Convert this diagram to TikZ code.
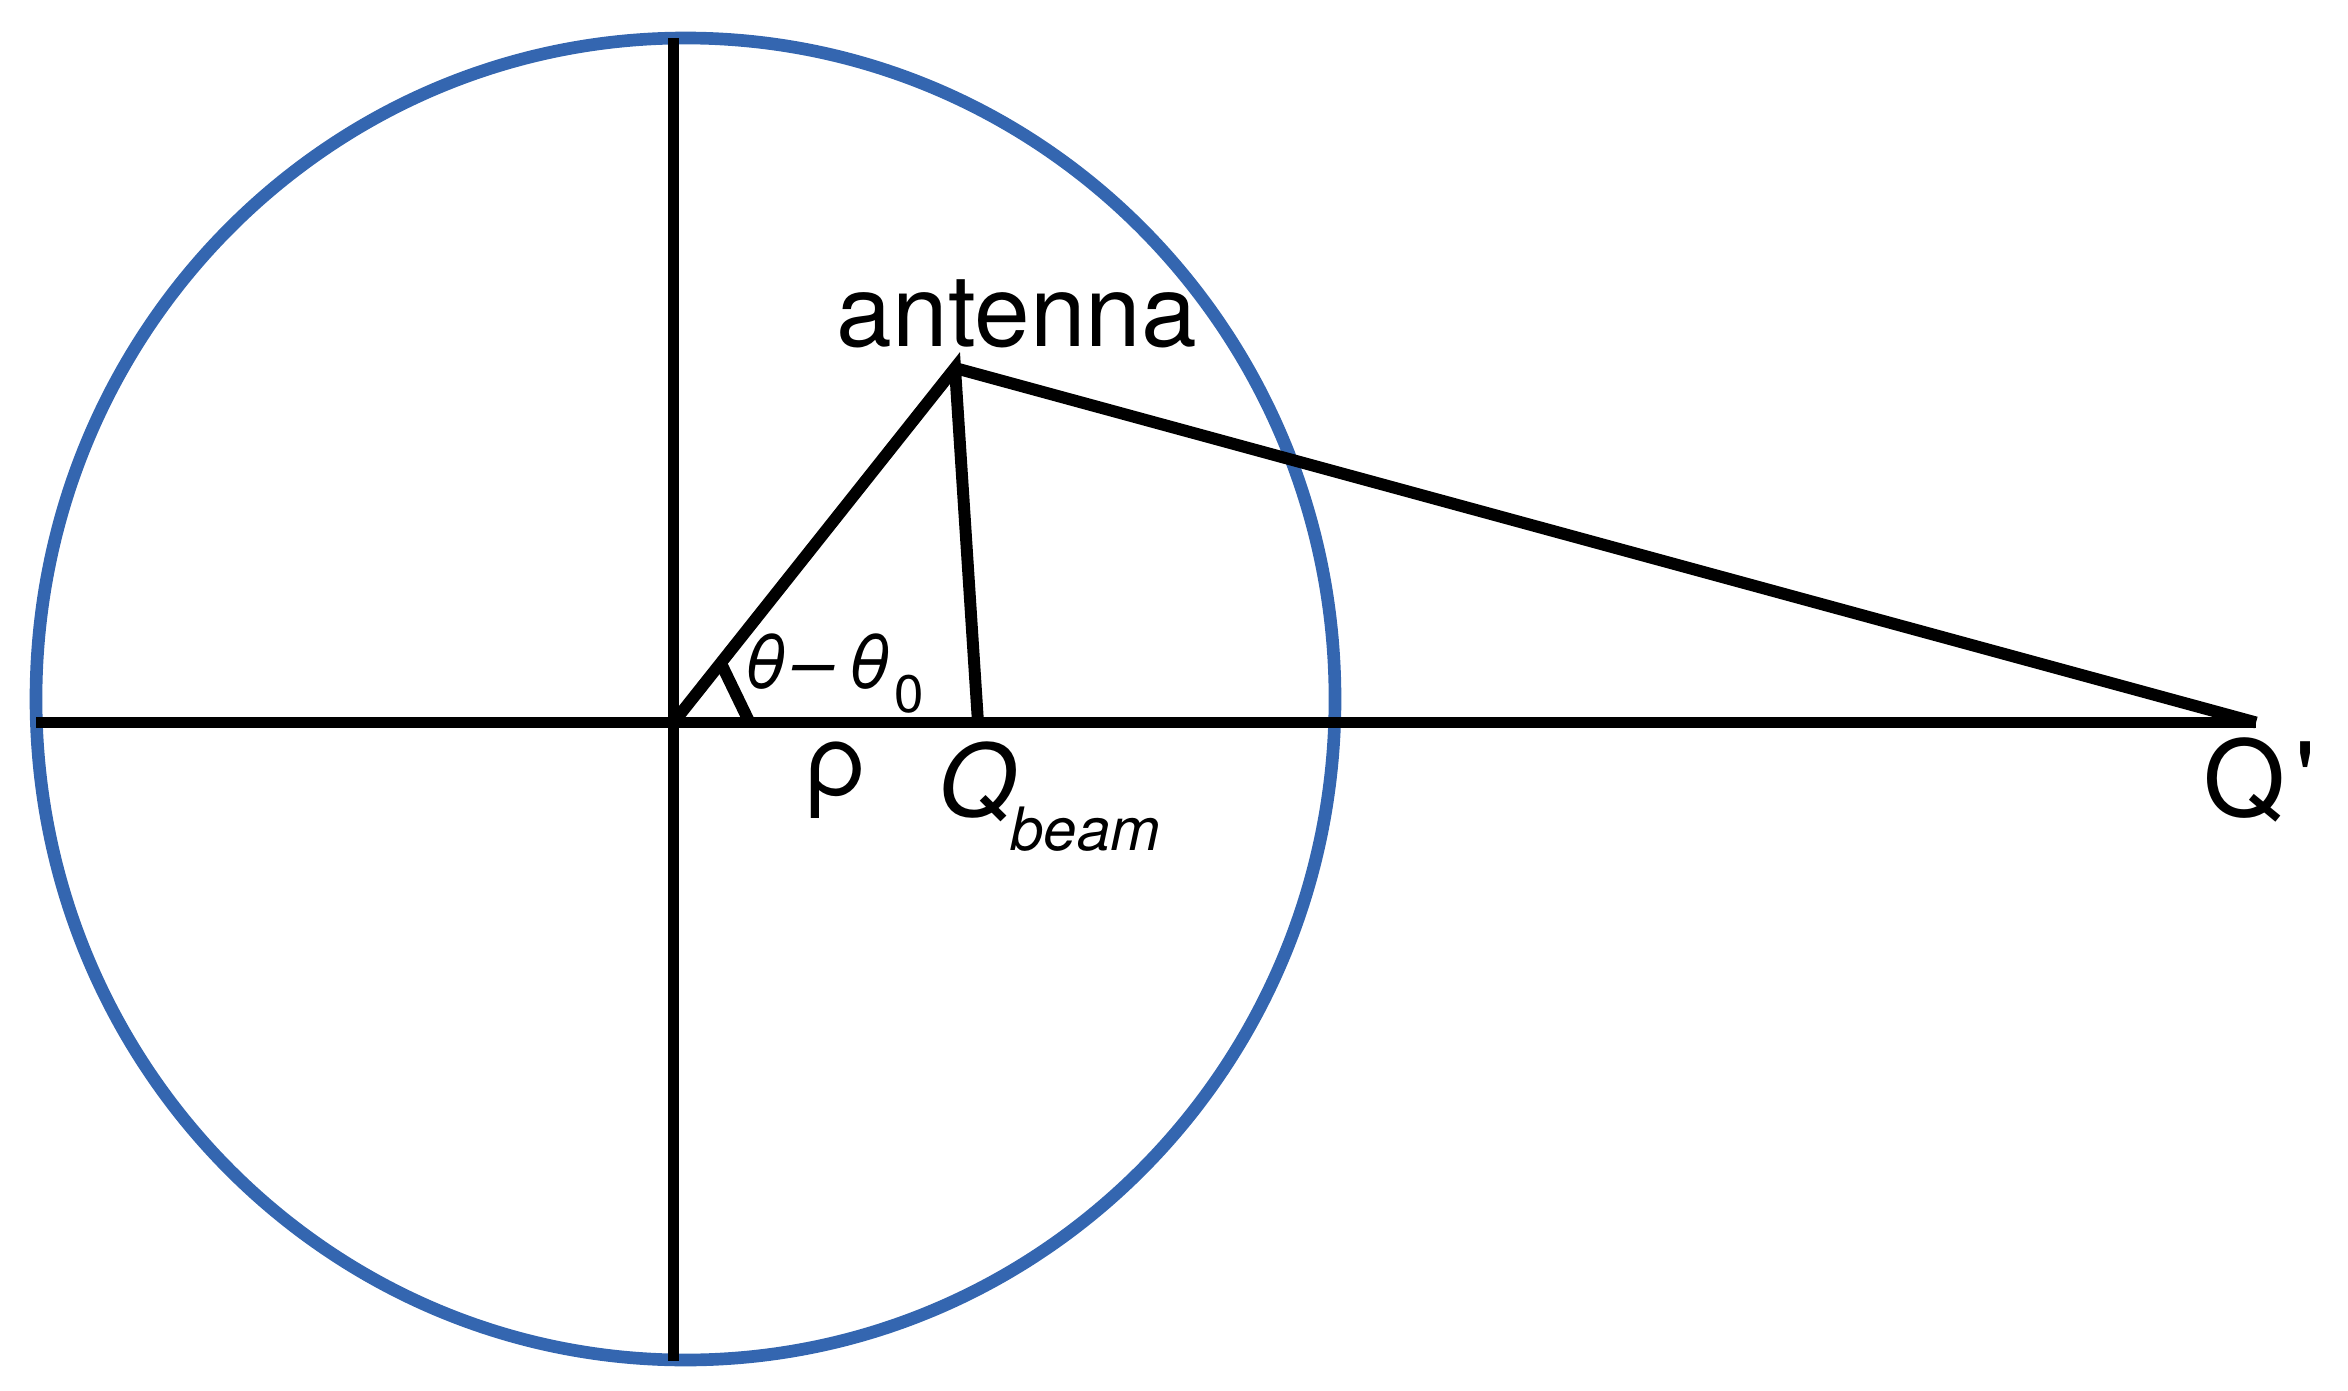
\documentclass[tikz,border=0pt]{standalone}
\usepackage{fontspec}
\setmainfont{TeX Gyre Heros}
\usetikzlibrary{calc}
\definecolor{rimblue}{RGB}{52,102,176}
\tikzset{
  rim/.style={draw=rimblue,line width=3.6pt},
  ln/.style={draw=black,line width=3.4pt},
  lbl/.style={inner sep=0pt,font=\fontsize{28.45}{34}\selectfont},
  sym/.style={inner sep=0pt,font=\fontsize{21}{24}\selectfont},
}
\newcommand{\lowtext}[3]{\raisebox{-#1}{\fontsize{#2}{#2}\selectfont #3}}
\begin{document}
\begin{tikzpicture}[x=0.01cm,y=-0.01cm]
\useasboundingbox (0,0) rectangle (2348,1391);
\draw[rim] (685.5,699) ellipse [x radius=649.5,y radius=661];
% axes and points
\coordinate (O) at (673.5,722.5);
\coordinate (T) at (673.5,38); \coordinate (B) at (673.5,1361);
\coordinate (L) at (36,722.5); \coordinate (Qp) at (2256,722.5);
\coordinate (A) at (955,368); \coordinate (Qb) at (978,722.5);
\draw[ln] (T)--(B); \draw[ln] (L)--(Qp);
\draw[ln] (O)--(A)--(Qb); \draw[ln] (A)--(Qp);
\draw[ln] ($(O)!0.76cm!(A)$)--($(O)!0.76cm!(Qb)$);
% labels
\node[lbl,anchor=base] (ant) at (1017,347) {antenna};
\node[sym,anchor=base west] (ang) at (743,688)
  {\itshape θ\kern0.06cm–\kern0.14cm θ\kern0.04cm\lowtext{0.24cm}{15}{\upshape 0}};
\node[lbl,anchor=base] (rho) at (836,795) {ρ};
\node[lbl,anchor=base west] (qb) at (938,816) {\itshape Q\kern-0.06cm\lowtext{0.34cm}{17}{beam}};
\node[lbl,anchor=base west,font=\fontsize{30}{34}\selectfont] (qp) at (2203,816) {Q\kern0.1cm\textquotesingle};
\end{tikzpicture}
\end{document}
